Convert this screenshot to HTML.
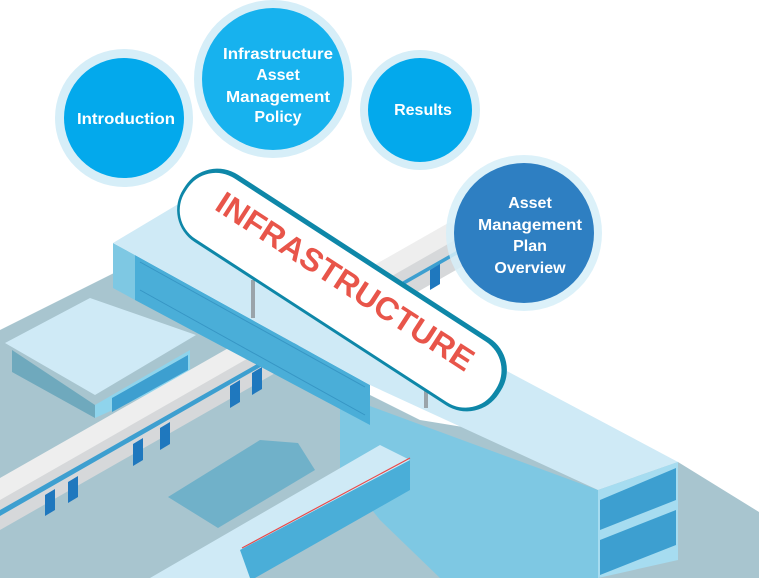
<!DOCTYPE html>
<html><head><meta charset="utf-8"><style>
html,body{margin:0;padding:0;background:#fff;}
svg{display:block;}
text{font-family:"Liberation Sans",sans-serif;font-weight:bold;}
</style></head><body>
<svg width="759" height="578" viewBox="0 0 759 578">
  <polygon points="0,330 120,270 420,420 678,462 759,512 759,578 0,578" fill="#a8c5cf"/>
  <polygon points="12,350 95,405 95,418 12,372" fill="#6fa9bd"/>
  <polygon points="95,405 190,350 190,375 95,418" fill="#8fd4ec"/>
  <polygon points="112,398 188,355 188,370 112,412" fill="#3d9fd0"/>
  <polygon points="5,343 90,298 196,335 95,395" fill="#cfeaf6"/>
  <polygon points="113,243 135,255 135,300 113,288" fill="#7ec8e3"/>
  <polygon points="340,395 598,490 598,578 440,578 380,520 340,470" fill="#7ec8e3"/>
  <polygon points="0,492 455,232 470,248 470,262 0,530" fill="#d6d8da"/>
  <polygon points="0,478 450,222 462,236 0,500" fill="#eeeeee"/>
  <polygon points="0,510 465,246 465,250 0,516" fill="#3d9fd0"/>
  <g fill="#1f78be">
    <polygon points="45,495 55,489 55,510 45,516"/>
    <polygon points="68,482 78,476 78,497 68,503"/>
    <polygon points="133,444 143,438 143,460 133,466"/>
    <polygon points="160,428 170,422 170,444 160,450"/>
    <polygon points="230,386 240,380 240,402 230,408"/>
    <polygon points="252,373 262,367 262,389 252,395"/>
    <polygon points="430,270 440,264 440,284 430,290"/>
  </g>
  <polygon points="135,255 370,385 370,425 135,300" fill="#4aaed8"/>
  <g stroke="#2a86b8" stroke-width="1" opacity="0.6">
    <line x1="140" y1="262" x2="365" y2="387"/><line x1="140" y1="290" x2="365" y2="415"/>
  </g>
  <polygon points="113,243 185,200 678,462 598,490 370,385 135,255" fill="#cfeaf6"/>
  <polygon points="598,490 678,462 678,560 598,578" fill="#a6dcf0"/>
  <polygon points="600,500 676,468 676,500 600,530" fill="#3d9fd0"/>
  <polygon points="600,540 676,510 676,545 600,575" fill="#3d9fd0"/>
  <polygon points="168,497 260,440 298,443 315,470 218,528" fill="#70b1c9"/>
  <polygon points="240,548 410,460 410,490 255,578 240,578" fill="#4aaed8"/>
  <polygon points="150,578 380,445 410,460 240,550 250,578" fill="#cfeaf6"/>
  <line x1="242" y1="548" x2="410" y2="458" stroke="#e84b4b" stroke-width="1.2"/>
  <rect x="251" y="280" width="4" height="38" fill="#9aa4aa"/>
  <rect x="424" y="330" width="4" height="78" fill="#9aa4aa"/>
  <g transform="translate(342,290) rotate(33)">
    <rect x="-188" y="-40" width="376" height="80" rx="38" fill="#0e87a8"/>
    <rect x="-185" y="-35" width="368" height="72" rx="34" fill="#fff"/>
    <text x="-152" y="2" font-size="32" fill="#e8554a" textLength="300" lengthAdjust="spacingAndGlyphs">INFRASTRUCTURE</text>
  </g>
  <g>
    <circle cx="124" cy="118" r="69" fill="#d6eef8"/>
    <circle cx="124" cy="118" r="60" fill="#03a9ec"/>
    <text x="126" y="124" text-anchor="middle" font-size="16" fill="#fff" textLength="98" lengthAdjust="spacingAndGlyphs">Introduction</text>
  </g>
  <g>
    <circle cx="273" cy="79" r="79" fill="#d6eef8"/>
    <circle cx="273" cy="79" r="71" fill="#17b2ee"/>
    <text text-anchor="middle" font-size="16" fill="#fff"><tspan x="278" y="59" textLength="110" lengthAdjust="spacingAndGlyphs">Infrastructure</tspan><tspan x="278" y="80">Asset</tspan><tspan x="278" y="102" textLength="104" lengthAdjust="spacingAndGlyphs">Management</tspan><tspan x="278" y="122">Policy</tspan></text>
  </g>
  <g>
    <circle cx="420" cy="110" r="60" fill="#d6eef8"/>
    <circle cx="420" cy="110" r="52" fill="#03a9ec"/>
    <text x="423" y="115" text-anchor="middle" font-size="16" fill="#fff">Results</text>
  </g>
  <g>
    <circle cx="524" cy="233" r="78" fill="#d6eef8" opacity="0.85"/>
    <circle cx="524" cy="233" r="70" fill="#2e7fc2"/>
    <text text-anchor="middle" font-size="16" fill="#fff"><tspan x="530" y="208">Asset</tspan><tspan x="530" y="230" textLength="104" lengthAdjust="spacingAndGlyphs">Management</tspan><tspan x="530" y="251">Plan</tspan><tspan x="530" y="273">Overview</tspan></text>
  </g>
</svg>
</body></html>
